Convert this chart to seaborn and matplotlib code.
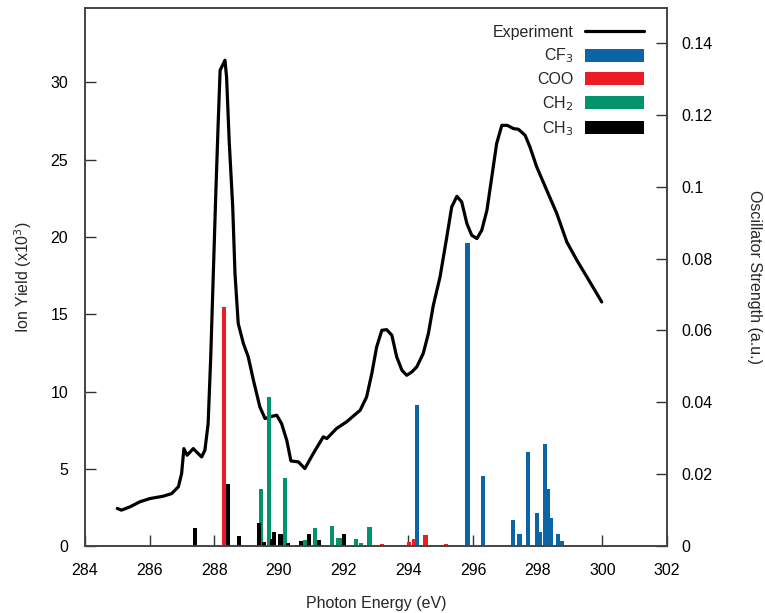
import matplotlib
matplotlib.use('Agg')
import matplotlib.pyplot as plt
import seaborn as sns
import pandas as pd
from matplotlib.lines import Line2D
from matplotlib.patches import Patch
from matplotlib.ticker import FormatStrFormatter

# experiment: photon energy (eV) vs ion yield (x10^3)
exp_energy = [285.00, 285.13, 285.39, 285.70, 286.01, 286.42, 286.68, 286.89, 286.99, 287.06,
              287.16, 287.35, 287.50, 287.61, 287.71, 287.81, 287.89, 287.97, 288.05, 288.12,
              288.18, 288.28, 288.33, 288.38, 288.46, 288.57, 288.64, 288.74, 288.90, 289.05,
              289.21, 289.41, 289.57, 289.72, 289.93, 290.08, 290.24, 290.37, 290.60, 290.80,
              291.06, 291.37, 291.48, 291.78, 292.09, 292.51, 292.71, 292.87, 293.02, 293.18,
              293.33, 293.49, 293.64, 293.80, 293.95, 294.11, 294.26, 294.46, 294.62, 294.77,
              294.98, 295.19, 295.34, 295.50, 295.65, 295.81, 295.96, 296.12, 296.27, 296.43,
              296.58, 296.73, 296.89, 297.06, 297.25, 297.40, 297.61, 297.76, 297.97, 298.28,
              298.59, 298.90, 299.21, 299.52, 299.98]
exp_yield = [2.44, 2.33, 2.54, 2.87, 3.08, 3.23, 3.40, 3.84, 4.70, 6.31,
             5.88, 6.31, 5.99, 5.77, 6.21, 7.93, 12.24, 17.63, 23.01, 27.32,
             30.77, 31.20, 31.42, 30.34, 26.24, 21.93, 17.63, 14.40, 13.10, 12.24,
             10.73, 9.00, 8.25, 8.36, 8.47, 7.93, 6.85, 5.51, 5.45, 5.02,
             5.99, 7.07, 6.96, 7.61, 8.04, 8.79, 9.65, 11.16, 12.88, 13.96,
             14.00, 13.64, 12.24, 11.38, 11.05, 11.27, 11.59, 12.46, 13.75, 15.55,
             17.41, 20.00, 21.93, 22.62, 22.26, 20.86, 20.10, 19.89, 20.43, 21.72,
             23.87, 26.03, 27.21, 27.21, 27.00, 26.96, 26.57, 25.81, 24.52, 23.01,
             21.51, 19.67, 18.49, 17.41, 15.79]

# calculated transitions: energy (eV) and oscillator strength (a.u.)
cf3_energy = [294.26, 295.83, 296.30, 297.24, 297.44, 297.69, 297.97, 298.07, 298.23,
              298.33, 298.41, 298.63, 298.74]
cf3_osc = [0.0392, 0.0843, 0.0196, 0.0074, 0.0033, 0.0261, 0.0091, 0.0040, 0.0284,
           0.0160, 0.0077, 0.0035, 0.0014]

coo_energy = [288.29, 293.18, 294.01, 294.18, 294.53, 294.95, 295.16, 295.59]
coo_osc = [0.0665, 0.0006, 0.0013, 0.0021, 0.0031, 0.0003, 0.0006, 0.0003]

ch2_energy = [289.45, 289.70, 290.19, 290.81, 291.11, 291.64, 291.82, 291.94, 292.38,
              292.53, 292.80]
ch2_osc = [0.0159, 0.0415, 0.0191, 0.0018, 0.0051, 0.0056, 0.0022, 0.0024, 0.0021,
           0.0010, 0.0054]

ch3_energy = [287.40, 288.42, 288.77, 289.39, 289.54, 289.78, 289.85, 290.05, 290.28,
              290.56, 290.69, 290.93, 291.24, 292.00]
ch3_osc = [0.0051, 0.0173, 0.0028, 0.0065, 0.0012, 0.0020, 0.0040, 0.0033, 0.0010,
           0.0003, 0.0014, 0.0035, 0.0016, 0.0033]

colors = {"Experiment": "black", "CF$_3$": "#0a64a6", "COO": "#ec1c24",
          "CH$_2$": "#03936c", "CH$_3$": "black"}

sns.set_style("ticks")
plt.rcParams['font.family'] = ['Liberation Sans', 'DejaVu Sans']
plt.rcParams['font.size'] = 11.5

fig = plt.figure(figsize=(7.65, 6.13), dpi=100)
ax = fig.add_axes([0.111, 0.109, 0.761, 0.878])
ax2 = ax.twinx()

df = pd.DataFrame({"energy": exp_energy, "yield": exp_yield})
sns.lineplot(data=df, x="energy", y="yield", ax=ax, color="black", lw=2.3, sort=False)

bar_w = 0.13
for name, en, osc in [("CF$_3$", cf3_energy, cf3_osc), ("COO", coo_energy, coo_osc),
                      ("CH$_2$", ch2_energy, ch2_osc), ("CH$_3$", ch3_energy, ch3_osc)]:
    ax2.bar(en, osc, width=bar_w, color=colors[name], linewidth=0)

ax.set_xlim(284, 302)
ax.set_ylim(0, 34.8)
ax2.set_ylim(0, 0.1497)
ax.set_xticks(range(284, 303, 2))
ax.set_yticks(range(0, 31, 5))
ax2.set_yticks([0, 0.02, 0.04, 0.06, 0.08, 0.1, 0.12, 0.14])
ax2.yaxis.set_major_formatter(FormatStrFormatter('%g'))

for a in (ax, ax2):
    a.tick_params(direction='in', length=8, width=1, colors='#333333', labelcolor='black')
    for s in a.spines.values():
        s.set_color('#444444')
        s.set_linewidth(1.2)
ax.tick_params(axis='x', pad=12)
ax.tick_params(axis='y', pad=12)
ax2.tick_params(axis='y', pad=10)

ax.set_xlabel("Photon Energy (eV)", labelpad=13)
ax.set_ylabel("Ion Yield (x10$^3$)", labelpad=12)
ax2.set_ylabel("Oscillator Strength (a.u.)", rotation=270, labelpad=36)

handles = [Line2D([0], [0], color="black", lw=2.3)]
labels = ["Experiment"]
for name in ["CF$_3$", "COO", "CH$_2$", "CH$_3$"]:
    handles.append(Patch(facecolor=colors[name], edgecolor='none'))
    labels.append(name)
leg = ax2.legend(handles, labels, loc='upper right', bbox_to_anchor=(0.985, 0.995),
                 markerfirst=False, frameon=False, handlelength=3.7, handleheight=0.85,
                 labelspacing=0.42, handletextpad=0.7, fontsize=11.5)
for t in leg.get_texts():
    t.set_ha('right')

fig.savefig("out.png", dpi=100)
